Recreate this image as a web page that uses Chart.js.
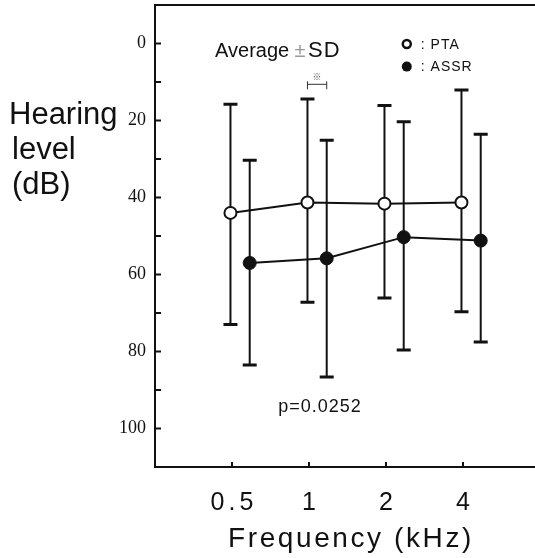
<!DOCTYPE html>
<html lang="en">
<head>
    <meta charset="UTF-8">
    <title>Hearing level chart</title>
    <style>
        body { margin: 0; background: #fff; }
        .chartBox { width: 535px; height: 558px; }
    </style>
</head>
<body>
<div class="chartBox">
    <canvas id="myChart" width="535" height="558"></canvas>
</div>
<script src="https://cdn.jsdelivr.net/npm/chart.js"></script>

<script>
    // values (dB, axis is reversed)
    const frequencies = ['0.5', '1', '2', '4'];
    const ptaMean = [44, 41.3, 41.6, 41.3];
    const ptaSdTop = [15.8, 14.4, 16.1, 12.1];
    const ptaSdBottom = [73.0, 67.2, 66.1, 69.7];
    const assrMean = [57, 55.8, 50.3, 51.2];
    const assrSdTop = [30.3, 25.1, 20.3, 23.6];
    const assrSdBottom = [83.5, 86.6, 79.6, 77.5];
    const yLabelValues = [0, 20, 40, 60, 80, 100];
    const yTickMarks = [0, 10, 20, 30, 40, 50, 60, 70, 80, 90, 100];

    const PTA_SHIFT = -0.02;
    const ASSR_SHIFT = 0.23;
    const INK = '#111';
    const SANS = '"Liberation Sans", Arial, sans-serif';

    function points(means, shift) {
        return means.map((m, i) => ({x: i + 1 + shift, y: m}));
    }

    // keep the plot box where the reference has it
    function noPadding(scale) {
        scale.paddingTop = 0;
        scale.paddingBottom = 0;
        scale.paddingLeft = 0;
        scale.paddingRight = 0;
        if (scale.isHorizontal()) {
            scale.height = 0;
        } else {
            scale.width = 36;
        }
    }

    // error bars, tick marks, bracket and texts
    const extras = {
        id: 'extras',
        beforeDatasetsDraw(chart) {
            const ctx = chart.ctx;
            const xs = chart.scales.x;
            const ys = chart.scales.y;
            const area = chart.chartArea;
            ctx.save();
            ctx.strokeStyle = INK;

            // inward ticks
            ctx.lineWidth = 2;
            yTickMarks.forEach(v => {
                const py = ys.getPixelForValue(v);
                ctx.beginPath();
                ctx.moveTo(area.left, py);
                ctx.lineTo(area.left + 6, py);
                ctx.stroke();
            });
            frequencies.forEach((f, i) => {
                const px = xs.getPixelForValue(i + 1);
                ctx.beginPath();
                ctx.moveTo(px, area.bottom);
                ctx.lineTo(px, area.bottom - 5);
                ctx.stroke();
            });

            // error bars
            const bars = [
                [PTA_SHIFT, ptaSdTop, ptaSdBottom],
                [ASSR_SHIFT, assrSdTop, assrSdBottom]
            ];
            bars.forEach(([shift, tops, bottoms]) => {
                tops.forEach((t, i) => {
                    const px = xs.getPixelForValue(i + 1 + shift);
                    const pt = ys.getPixelForValue(t);
                    const pb = ys.getPixelForValue(bottoms[i]);
                    ctx.lineWidth = 2;
                    ctx.beginPath();
                    ctx.moveTo(px, pt);
                    ctx.lineTo(px, pb);
                    ctx.stroke();
                    ctx.lineWidth = 3;
                    ctx.beginPath();
                    ctx.moveTo(px - 7, pt);
                    ctx.lineTo(px + 7, pt);
                    ctx.moveTo(px - 7, pb);
                    ctx.lineTo(px + 7, pb);
                    ctx.stroke();
                });
            });

            // significance bracket at 1 kHz
            const bx1 = xs.getPixelForValue(2 + PTA_SHIFT);
            const bx2 = xs.getPixelForValue(2 + ASSR_SHIFT);
            const by = ys.getPixelForValue(10.6);
            ctx.lineWidth = 1;
            ctx.strokeStyle = '#333';
            ctx.beginPath();
            ctx.moveTo(bx1, by - 3);
            ctx.lineTo(bx1, by + 5);
            ctx.moveTo(bx1, by);
            ctx.lineTo(bx2, by);
            ctx.moveTo(bx2, by - 3);
            ctx.lineTo(bx2, by + 5);
            ctx.stroke();
            ctx.fillStyle = '#555';
            ctx.font = '9px "Noto Sans CJK JP", sans-serif';
            ctx.textAlign = 'center';
            ctx.textBaseline = 'middle';
            ctx.fillText('※', (bx1 + bx2) / 2, by - 8);
            ctx.restore();
        },
        afterDraw(chart) {
            const ctx = chart.ctx;
            const xs = chart.scales.x;
            const ys = chart.scales.y;
            ctx.save();
            ctx.fillStyle = INK;
            ctx.textBaseline = 'alphabetic';
            ctx.textAlign = 'left';

            // y axis title
            ctx.font = '31px ' + SANS;
            ctx.letterSpacing = '0px';
            ctx.fillText('Hearing', 9, 124);
            ctx.fillText('level', 12, 159);
            ctx.fillText('(dB)', 12, 194);

            // x tick labels
            ctx.font = '25px ' + SANS;
            ctx.letterSpacing = '4px';
            ctx.textAlign = 'center';
            frequencies.forEach((f, i) => {
                ctx.fillText(f, xs.getPixelForValue(i + 1) + 2, 510);
            });

            // x axis title
            ctx.font = '28px ' + SANS;
            ctx.letterSpacing = '2.6px';
            ctx.textAlign = 'left';
            ctx.fillText('Frequency (kHz)', 228, 547);

            // Average ± SD
            ctx.letterSpacing = '0px';
            ctx.font = '20px ' + SANS;
            const tx = xs.getPixelForValue(0.78);
            const ty = ys.getPixelForValue(3.45);
            ctx.fillText('Average', tx, ty);
            ctx.fillStyle = '#9a9a9a';
            ctx.textAlign = 'center';
            ctx.fillText('±', tx + 85, ty);
            ctx.fillStyle = INK;
            ctx.textAlign = 'left';
            ctx.font = '22px ' + SANS;
            ctx.letterSpacing = '1px';
            ctx.fillText('SD', tx + 93, ty);

            // legend
            const lx = xs.getPixelForValue(3.27);
            const l1 = ys.getPixelForValue(0.13);
            const l2 = ys.getPixelForValue(6.0);
            ctx.lineWidth = 2.5;
            ctx.strokeStyle = INK;
            ctx.fillStyle = '#fff';
            ctx.beginPath();
            ctx.arc(lx, l1, 4, 0, Math.PI * 2);
            ctx.fill();
            ctx.stroke();
            ctx.fillStyle = INK;
            ctx.beginPath();
            ctx.arc(lx, l2, 5, 0, Math.PI * 2);
            ctx.fill();
            ctx.font = '14px ' + SANS;
            ctx.letterSpacing = '1px';
            ctx.fillText(': PTA', lx + 14, ys.getPixelForValue(1.3));
            ctx.fillText(': ASSR', lx + 14, ys.getPixelForValue(7.1));

            // p value
            ctx.font = '18px ' + SANS;
            ctx.letterSpacing = '1px';
            ctx.fillText('p=0.0252', xs.getPixelForValue(1.6), ys.getPixelForValue(95.8));
            ctx.restore();
        }
    };

    const data = {
        datasets: [
            {
                label: 'PTA',
                data: points(ptaMean, PTA_SHIFT),
                borderColor: INK,
                borderWidth: 2,
                pointRadius: 6,
                pointBorderWidth: 2,
                pointBackgroundColor: '#fff',
                pointBorderColor: INK
            },
            {
                label: 'ASSR',
                data: points(assrMean, ASSR_SHIFT),
                borderColor: INK,
                borderWidth: 2,
                pointRadius: 6.5,
                pointBorderWidth: 1,
                pointBackgroundColor: INK,
                pointBorderColor: INK
            }
        ]
    };

    const config = {
        type: 'line',
        data: data,
        options: {
            responsive: false,
            animation: false,
            layout: {autoPadding: false, padding: {left: 119, top: 5, right: 0, bottom: 91}},
            plugins: {legend: {display: false}, tooltip: {enabled: false}},
            scales: {
                x: {
                    type: 'linear',
                    min: 0,
                    max: 4.935,
                    ticks: {display: false},
                    grid: {display: false, drawTicks: false},
                    border: {display: true, color: INK, width: 2},
                    afterFit: noPadding
                },
                x2: {
                    type: 'linear',
                    position: 'top',
                    min: 0,
                    max: 4.935,
                    ticks: {display: false},
                    grid: {display: false, drawTicks: false},
                    border: {display: true, color: INK, width: 2},
                    afterFit: noPadding
                },
                y: {
                    min: -10,
                    max: 110,
                    reverse: true,
                    ticks: {
                        stepSize: 10,
                        autoSkip: false,
                        padding: 9,
                        color: INK,
                        font: {family: '"Liberation Serif", "Times New Roman", serif', size: 18},
                        callback: v => yLabelValues.includes(v) ? v : ''
                    },
                    grid: {display: false, drawTicks: false},
                    border: {display: true, color: INK, width: 2},
                    afterFit: noPadding
                }
            }
        },
        plugins: [extras]
    };

    const myChart = new Chart(document.getElementById('myChart'), config);
</script>
</body>
</html>
